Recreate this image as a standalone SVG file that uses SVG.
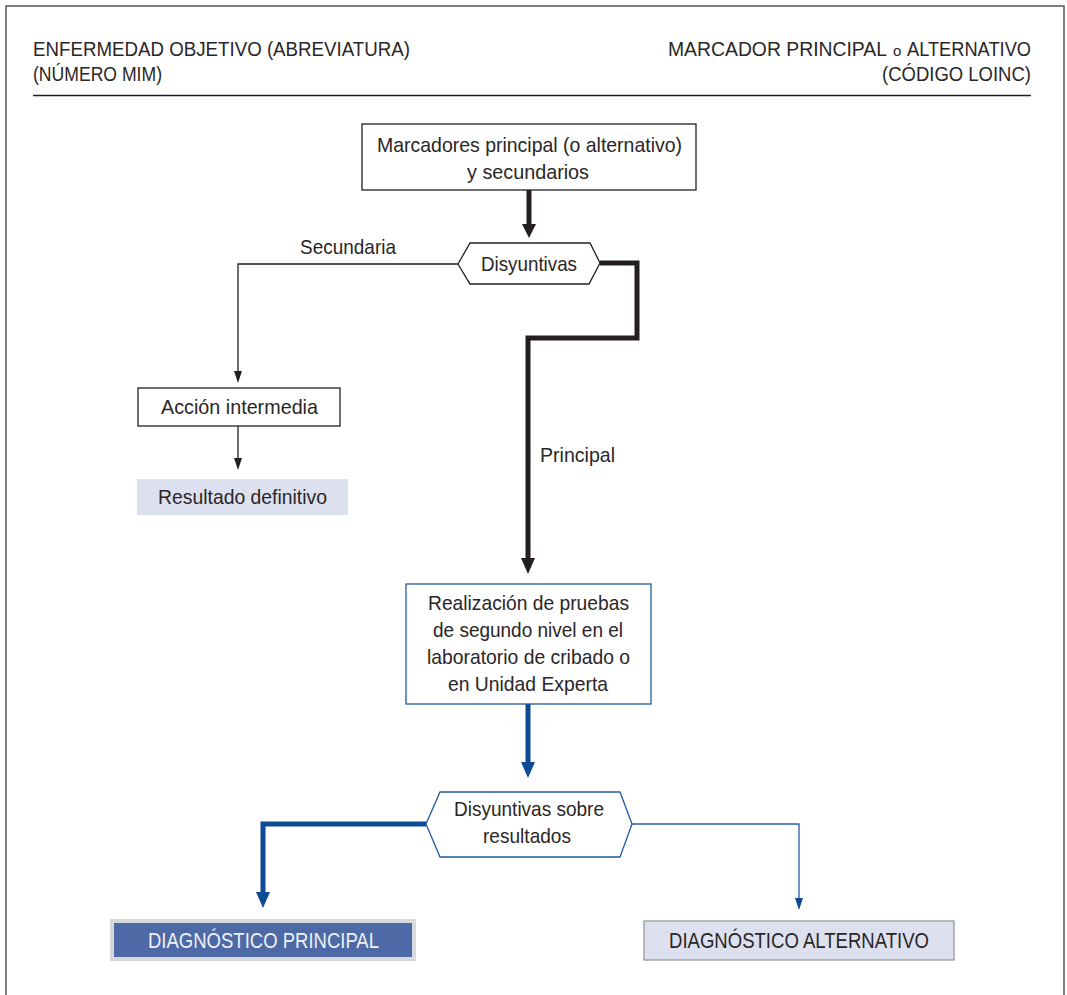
<svg xmlns="http://www.w3.org/2000/svg" width="1067" height="995" viewBox="0 0 1067 995">
<defs>
<style>
text{font-family:"Liberation Sans Narrow","Liberation Sans",Arial,sans-serif;fill:#2a2627;}
.h{font-size:20px;}
.t{font-size:21px;text-anchor:middle;}
.box{fill:#fff;stroke:#231f20;stroke-width:1.3;}
.bbox{fill:#fff;stroke:#1f5aa0;stroke-width:1.3;}
.res{fill:#dde0ee;}
.k5{fill:none;stroke:#231f20;stroke-width:5;}
.k1{fill:none;stroke:#231f20;stroke-width:1.3;}
.b5{fill:none;stroke:#0d4a94;stroke-width:5;}
.b1{fill:none;stroke:#2a5ea8;stroke-width:1.3;}
</style>
<marker id="ak" markerUnits="userSpaceOnUse" markerWidth="18" markerHeight="16" refX="2" refY="7" orient="auto"><path d="M0,0 L16,7 L0,14 z" fill="#231f20"/></marker>
<marker id="ab" markerUnits="userSpaceOnUse" markerWidth="18" markerHeight="16" refX="2" refY="7" orient="auto"><path d="M0,0 L16,7 L0,14 z" fill="#0d4a94"/></marker>
<marker id="sk" markerUnits="userSpaceOnUse" markerWidth="14" markerHeight="10" refX="1" refY="4" orient="auto"><path d="M0,0 L12,4 L0,8 z" fill="#231f20"/></marker>
<marker id="sb" markerUnits="userSpaceOnUse" markerWidth="14" markerHeight="10" refX="1" refY="4" orient="auto"><path d="M0,0 L12,4 L0,8 z" fill="#0d4a94"/></marker>
</defs>
<rect width="1067" height="995" fill="#fff"/>
<g id="frame">
<path d="M6,1000 V6 H1064 V1000" fill="none" stroke="#555" stroke-width="1.5"/>
</g>
<g id="header">
<text class="h" x="33" y="56" textLength="377" lengthAdjust="spacingAndGlyphs">ENFERMEDAD OBJETIVO (ABREVIATURA)</text>
<text class="h" x="33" y="81" textLength="129" lengthAdjust="spacingAndGlyphs">(NÚMERO MIM)</text>
<text class="h" x="668" y="56" textLength="219" lengthAdjust="spacingAndGlyphs">MARCADOR PRINCIPAL</text>
<text x="893" y="56" font-size="15">o</text>
<text class="h" x="907" y="56" textLength="124" lengthAdjust="spacingAndGlyphs">ALTERNATIVO</text>
<text class="h" x="882" y="81" textLength="149" lengthAdjust="spacingAndGlyphs">(CÓDIGO LOINC)</text>
<line x1="33" y1="95.5" x2="1031" y2="95.5" stroke="#231f20" stroke-width="1.5"/>
</g>
<g id="connectors">
<path class="k5" d="M529,190 V224"/>
<path class="k5" d="M600,263 H637 V338 H528 V560" marker-end="url(#ak)"/>
<path class="k1" d="M458,264 H238 V372" marker-end="url(#sk)"/>
<path class="k1" d="M238,426 V459" marker-end="url(#sk)"/>
<path class="b5" d="M528,704 V764" marker-end="url(#ab)"/>
<path class="b5" d="M426,824 H263 V894" marker-end="url(#ab)"/>
<path class="b1" d="M632,824 H799 V899" marker-end="url(#sb)"/>
<path d="M522,224 L536,224 L529,238 z" fill="#231f20"/>
<text class="t" x="348" y="254" textLength="96" lengthAdjust="spacingAndGlyphs">Secundaria</text>
<text class="t" x="577.5" y="462" textLength="75" lengthAdjust="spacingAndGlyphs">Principal</text>
</g>
<g id="n-marcadores">
<rect class="box" x="362" y="124" width="334" height="66"/>
<text class="t" x="529.5" y="152" textLength="305" lengthAdjust="spacingAndGlyphs">Marcadores principal (o alternativo)</text>
<text class="t" x="528" y="179" textLength="122" lengthAdjust="spacingAndGlyphs">y secundarios</text>
</g>
<g id="n-disyuntivas">
<polygon class="box" points="458,264 470,243 590,243 600,263 589,284 470,284"/>
<text class="t" x="529" y="271" textLength="96" lengthAdjust="spacingAndGlyphs">Disyuntivas</text>
</g>
<g id="n-accion">
<rect class="box" x="138" y="388" width="202" height="38"/>
<text class="t" x="239.5" y="414" textLength="157" lengthAdjust="spacingAndGlyphs">Acción intermedia</text>
</g>
<g id="n-resultado">
<rect class="res" x="137" y="479" width="211" height="36"/>
<text class="t" x="242.5" y="504" textLength="169" lengthAdjust="spacingAndGlyphs">Resultado definitivo</text>
</g>
<g id="n-realizacion">
<rect class="bbox" x="406" y="584" width="245" height="120"/>
<text class="t" x="528.5" y="610" textLength="201" lengthAdjust="spacingAndGlyphs">Realización de pruebas</text>
<text class="t" x="528" y="637" textLength="190" lengthAdjust="spacingAndGlyphs">de segundo nivel en el</text>
<text class="t" x="528.5" y="664" textLength="203" lengthAdjust="spacingAndGlyphs">laboratorio de cribado o</text>
<text class="t" x="528" y="691" textLength="160" lengthAdjust="spacingAndGlyphs">en Unidad Experta</text>
</g>
<g id="n-disyuntivas-resultados">
<polygon class="bbox" points="426,824 440,792 620,792 632,824 620,857 440,857"/>
<text class="t" x="529" y="816" textLength="150" lengthAdjust="spacingAndGlyphs">Disyuntivas sobre</text>
<text class="t" x="527" y="843" textLength="88" lengthAdjust="spacingAndGlyphs">resultados</text>
</g>
<g id="n-diag-principal">
<rect x="110" y="919" width="306" height="42" fill="#d8d9dc"/>
<rect x="114" y="923" width="298" height="34" fill="#4d6aa6"/>
<text class="t" x="263.5" y="948" style="fill:#eef1f8;font-size:22px" textLength="231" lengthAdjust="spacingAndGlyphs">DIAGNÓSTICO PRINCIPAL</text>
</g>
<g id="n-diag-alternativo">
<rect x="644" y="921" width="310" height="39" fill="#dde0ee" stroke="#999" stroke-width="1.3"/>
<text class="t" x="799" y="948" style="font-size:22px" textLength="260" lengthAdjust="spacingAndGlyphs">DIAGNÓSTICO ALTERNATIVO</text>
</g>
</svg>
